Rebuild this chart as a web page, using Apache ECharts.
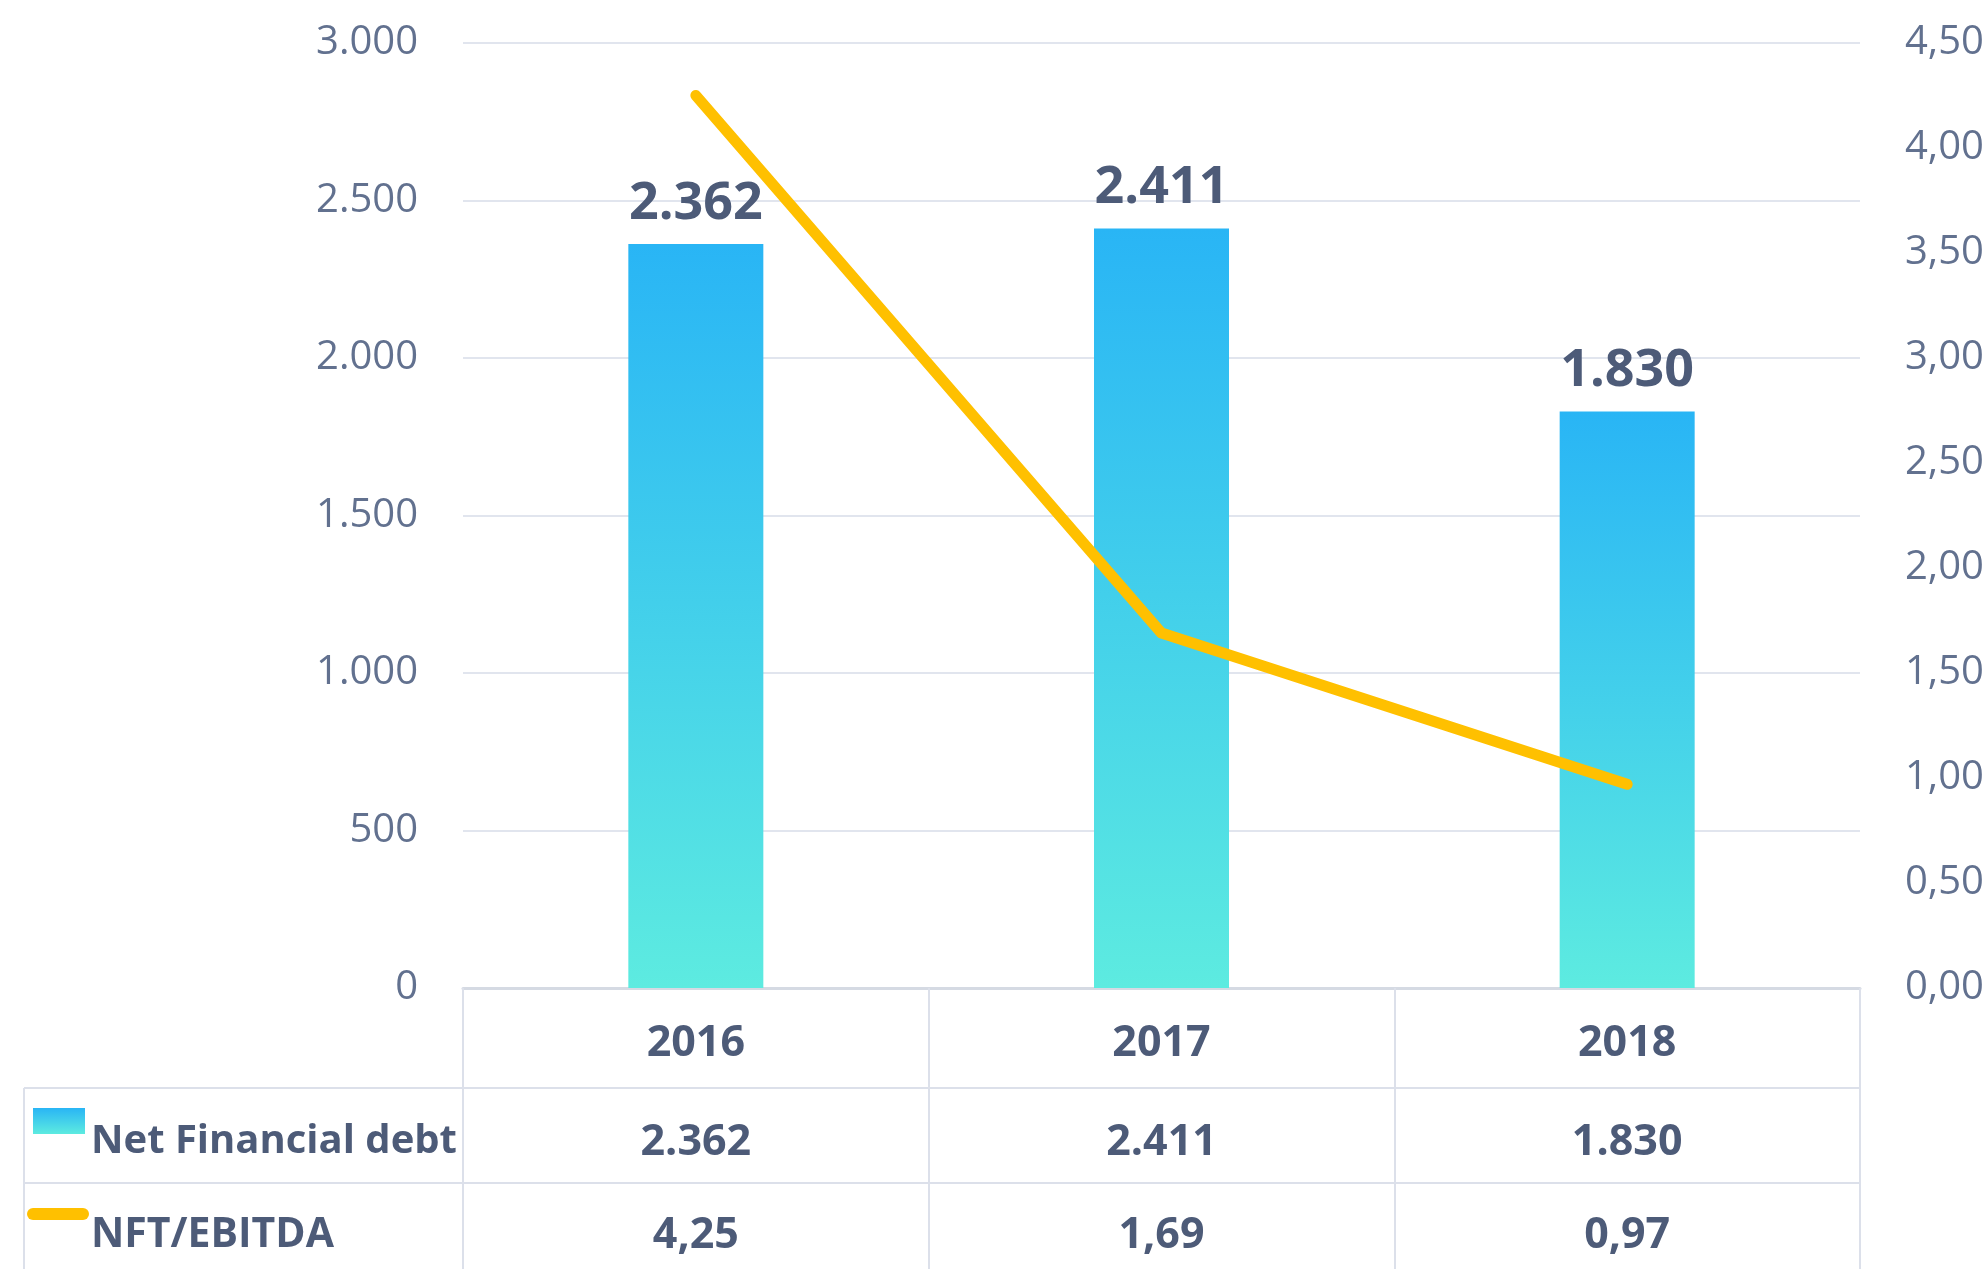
<!DOCTYPE html>
<html lang="en">
    <head>
        <meta charset="UTF-8" />
        <title>Net Financial debt</title>
        <script src="https://cdn.jsdelivr.net/npm/echarts@6/dist/echarts.min.js"></script>
        <style>
            * {
                margin: 0;
                padding: 0;
            }
            body {
                background: #fff;
                overflow: hidden;
            }
            #container {
                width: 1988px;
                height: 1269px;
            }
        </style>
    </head>
    <body>
        <div id="container"></div>
        <script type="text/javascript">
            // data
            const years = ['2016', '2017', '2018'];
            const netDebt = [2362, 2411, 1830];
            const ratio = [4.25, 1.69, 0.97];
            const seriesNames = ['Net Financial debt', 'NFT/EBITDA'];

            const textDark = '#4D5B78';
            const axisGrey = '#62718F';
            const lineCol = '#DCE0EA';
            const font = 'Open Sans';

            // 2362 -> 2.362 ; 4.25 -> 4,25
            const fmtThousands = function (v) {
                return String(Math.round(v)).replace(/\B(?=(\d{3})+(?!\d))/g, '.');
            };
            const fmtDec = function (v) {
                return v.toFixed(2).replace('.', ',');
            };

            const chart = echarts.init(document.getElementById('container'));

            const rowAxis = function (values, fmt, margin) {
                return {
                    type: 'category',
                    gridIndex: 0,
                    position: 'bottom',
                    data: years,
                    axisLine: { show: false },
                    axisTick: { show: false },
                    axisLabel: {
                        margin: margin,
                        color: textDark,
                        fontFamily: font,
                        fontWeight: 'bold',
                        fontSize: 43,
                        lineHeight: 43,
                        formatter: function (v, i) {
                            return fmt(values[i]);
                        },
                    },
                };
            };

            const option = {
                animation: false,
                grid: { left: 463, right: 128, top: 43, bottom: 281 },
                xAxis: [
                    {
                        type: 'category',
                        data: years,
                        axisLine: { show: true, lineStyle: { color: '#D5DAE3', width: 3 } },
                        axisTick: {
                            show: true,
                            alignWithLabel: false,
                            interval: 0,
                            length: 281,
                            lineStyle: { color: lineCol, width: 2 },
                        },
                        axisLabel: {
                            margin: 34,
                            color: textDark,
                            fontFamily: font,
                            fontWeight: 'bold',
                            fontSize: 43,
                            lineHeight: 43,
                        },
                    },
                    rowAxis(netDebt, fmtThousands, 133),
                    rowAxis(ratio, fmtDec, 226),
                ],
                yAxis: [
                    {
                        type: 'value',
                        min: 0,
                        max: 3000,
                        interval: 500,
                        axisLine: { show: false },
                        axisTick: { show: false },
                        splitLine: { lineStyle: { color: '#E1E5EE', width: 2 } },
                        axisLabel: {
                            margin: 45,
                            padding: [5, 0, 0, 0],
                            color: axisGrey,
                            fontFamily: font,
                            fontSize: 40,
                            formatter: fmtThousands,
                        },
                    },
                    {
                        type: 'value',
                        min: 0,
                        max: 4.5,
                        interval: 0.5,
                        axisLine: { show: false },
                        axisTick: { show: false },
                        splitLine: { show: false },
                        axisLabel: {
                            margin: 45,
                            padding: [5, 0, 0, 0],
                            color: axisGrey,
                            fontFamily: font,
                            fontSize: 40,
                            formatter: fmtDec,
                        },
                    },
                ],
                series: [
                    {
                        name: seriesNames[0],
                        type: 'bar',
                        data: netDebt,
                        barWidth: 135,
                        itemStyle: {
                            color: new echarts.graphic.LinearGradient(0, 0, 0, 1, [
                                { offset: 0, color: '#29B5F5' },
                                { offset: 1, color: '#5DEBE0' },
                            ]),
                        },
                        label: {
                            show: true,
                            position: 'top',
                            distance: 14,
                            color: textDark,
                            fontFamily: font,
                            fontWeight: 'bold',
                            fontSize: 52,
                            formatter: function (p) {
                                return fmtThousands(p.value);
                            },
                        },
                    },
                    {
                        name: seriesNames[1],
                        type: 'line',
                        yAxisIndex: 1,
                        data: ratio,
                        symbol: 'none',
                        z: 5,
                        lineStyle: { color: '#FFC000', width: 11, cap: 'round', join: 'round' },
                    },
                ],
                graphic: [
                    // table lines: rows and the legend column
                    { type: 'line', shape: { x1: 24, y1: 1088, x2: 1860, y2: 1088 }, style: { stroke: lineCol, lineWidth: 2 } },
                    { type: 'line', shape: { x1: 24, y1: 1183, x2: 1860, y2: 1183 }, style: { stroke: lineCol, lineWidth: 2 } },
                    { type: 'line', shape: { x1: 24, y1: 1088, x2: 24, y2: 1269 }, style: { stroke: lineCol, lineWidth: 2 } },
                    // legend icons
                    {
                        type: 'rect',
                        shape: { x: 33, y: 1108, width: 52, height: 26 },
                        style: {
                            fill: new echarts.graphic.LinearGradient(0, 0, 0, 1, [
                                { offset: 0, color: '#29B5F5' },
                                { offset: 1, color: '#5DEBE0' },
                            ]),
                        },
                    },
                    {
                        type: 'line',
                        shape: { x1: 33, y1: 1214, x2: 83, y2: 1214 },
                        style: { stroke: '#FFC000', lineWidth: 12, lineCap: 'round' },
                    },
                    // legend texts
                    {
                        type: 'text',
                        x: 91,
                        y: 1142,
                        style: {
                            text: seriesNames[0],
                            fill: textDark,
                            font: 'bold 40px "Open Sans"',
                            verticalAlign: 'middle',
                        },
                    },
                    {
                        type: 'text',
                        x: 91,
                        y: 1235,
                        style: {
                            text: seriesNames[1],
                            fill: textDark,
                            font: 'bold 41px "Open Sans"',
                            verticalAlign: 'middle',
                        },
                    },
                ],
            };

            chart.setOption(option);
        </script>
    </body>
</html>
